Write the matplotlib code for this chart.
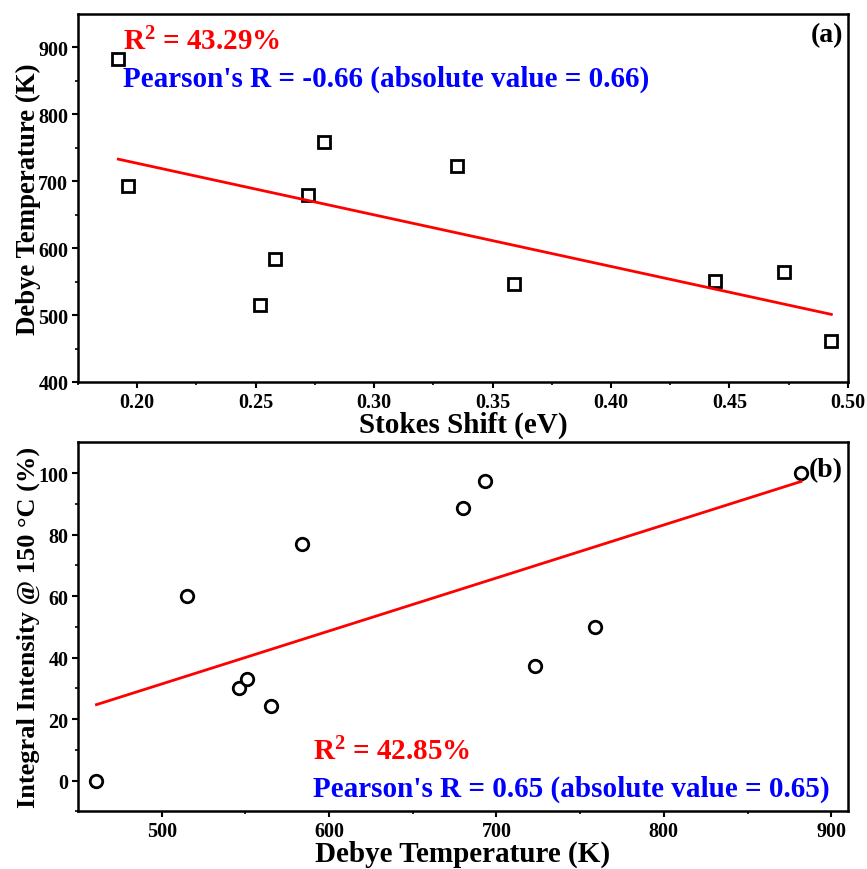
import numpy as np
import matplotlib
matplotlib.use("Agg")
import matplotlib.pyplot as plt

plt.rcParams['font.family'] = ['Liberation Serif', 'DejaVu Serif']
plt.rcParams['font.weight'] = 'bold'
plt.rcParams['mathtext.fontset'] = 'custom'
plt.rcParams['mathtext.rm'] = 'Liberation Serif:bold'
plt.rcParams['mathtext.bf'] = 'Liberation Serif:bold'
plt.rcParams['mathtext.it'] = 'Liberation Serif:bold:italic'

# Data
stokes_shift = [0.192, 0.196, 0.252, 0.258, 0.272, 0.279, 0.335, 0.359, 0.444, 0.473, 0.493]
debye_temp = [882, 693, 515, 584, 680, 759, 723, 546, 551, 565, 461]
intensity_150 = [100, 97.3, 60, 77, 88.8, 50, 37.4, 30.1, 33, 24.3, 0]

# Linear fit lines (endpoints at data range)
fit_a_x = [0.192, 0.493]
fit_a_y = [733, 501]
fit_b_x = [461, 882]
fit_b_y = [24.7, 97.3]

text_a_r2 = r'R$^{2}$ = 43.29%'
text_a_p = "Pearson's R = -0.66 (absolute value = 0.66)"
text_b_r2 = r'R$^{2}$ = 42.85%'
text_b_p = "Pearson's R = 0.65 (absolute value = 0.65)"

fig = plt.figure(figsize=(8.67, 8.70), dpi=100)
ax1 = fig.add_axes([0.090, 0.5598, 0.888, 0.423])
ax2 = fig.add_axes([0.090, 0.0663, 0.888, 0.424])

def style(ax):
    for s in ax.spines.values():
        s.set_linewidth(1.8)
    ax.tick_params(which='major', direction='out', length=4, width=1.5, labelsize=14.5, pad=3)
    ax.tick_params(which='minor', direction='out', length=2.5, width=1.2)
    ax.tick_params(top=False, right=False)
    for lbl in ax.get_xticklabels() + ax.get_yticklabels():
        lbl.set_fontweight('bold')

# (a)
ax1.plot(stokes_shift, debye_temp, linestyle='none', marker='s', markersize=8,
         markerfacecolor='white', markeredgecolor='black', markeredgewidth=2)
ax1.plot(fit_a_x, fit_a_y, color='#ff0000', linewidth=2)
ax1.set_xlim(0.18, 0.50)
ax1.set_ylim(400, 950)
ax1.set_xticks([0.20, 0.25, 0.30, 0.35, 0.40, 0.45, 0.50])
ax1.set_xticklabels(['0.20', '0.25', '0.30', '0.35', '0.40', '0.45', '0.50'])
ax1.set_xticks(np.arange(0.175, 0.50, 0.05), minor=True)
ax1.set_yticks([400, 500, 600, 700, 800, 900])
ax1.set_yticks([450, 550, 650, 750, 850], minor=True)
ax1.set_xlabel('Stokes Shift (eV)', fontsize=21, fontweight='bold', labelpad=-1)
ax1.set_ylabel('Debye Temperature (K)', fontsize=19.3, fontweight='bold', labelpad=-2)
style(ax1)
ax1.text(0.058, 0.905, text_a_r2, transform=ax1.transAxes, color='#ff0000',
         fontsize=21, fontweight='bold', va='baseline', ha='left')
ax1.text(0.058, 0.805, text_a_p, transform=ax1.transAxes, color='#0000ff',
         fontsize=21, fontweight='bold', va='baseline', ha='left')
ax1.text(0.9935, 0.927, '(a)', transform=ax1.transAxes, color='black',
         fontsize=20, fontweight='bold', va='baseline', ha='right')

# (b)
ax2.plot(debye_temp, intensity_150, linestyle='none', marker='o', markersize=9,
         markerfacecolor='white', markeredgecolor='black', markeredgewidth=2)
ax2.plot(fit_b_x, fit_b_y, color='#ff0000', linewidth=2)
ax2.set_xlim(450, 910)
ax2.set_ylim(-10, 110)
ax2.set_xticks([500, 600, 700, 800, 900])
ax2.set_xticks([550, 650, 750, 850], minor=True)
ax2.set_yticks([0, 20, 40, 60, 80, 100])
ax2.set_yticks([-10, 10, 30, 50, 70, 90], minor=True)
ax2.set_xlabel('Debye Temperature (K)', fontsize=21, fontweight='bold', labelpad=-1)
ax2.set_ylabel('Integral Intensity @ 150 °C (%)', fontsize=19, fontweight='bold', labelpad=-1)
style(ax2)
ax2.text(0.305, 0.142, text_b_r2, transform=ax2.transAxes, color='#ff0000',
         fontsize=21, fontweight='bold', va='baseline', ha='left')
ax2.text(0.305, 0.042, text_b_p, transform=ax2.transAxes, color='#0000ff',
         fontsize=21, fontweight='bold', va='baseline', ha='left')
ax2.text(0.9935, 0.909, '(b)', transform=ax2.transAxes, color='black',
         fontsize=20, fontweight='bold', va='baseline', ha='right')

fig.savefig('out.png', dpi=100)
